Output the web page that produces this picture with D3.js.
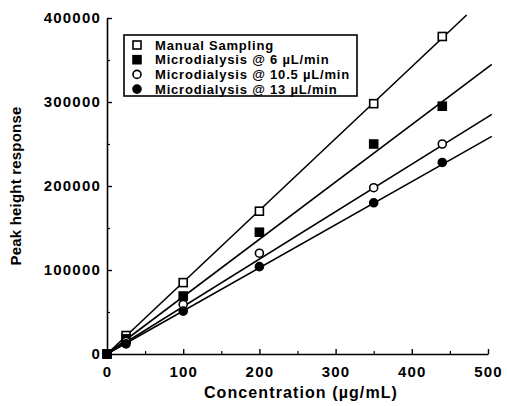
<!DOCTYPE html>
<html>
<head>
<meta charset="utf-8">
<script src="https://cdn.jsdelivr.net/npm/d3@7"></script>
<style>
  body { margin: 0; background: #fff; }
  svg text { font-family: "Liberation Sans", Arial, sans-serif; font-weight: bold; fill: #000; }
</style>
</head>
<body>
<div id="chart"></div>
<script>
// concentrations (ug/mL) for every series
var concentration = [0, 25, 100, 200, 350, 440];

// peak height response of each sampling method
var manualSampling = [0, 22000, 85000, 170000, 298000, 378000];
var micro6 = [0, 18000, 69000, 145000, 250000, 295000];
var micro105 = [0, 15000, 59000, 120000, 198000, 250000];
var micro13 = [0, 12000, 51000, 104000, 180000, 228000];

// fitted line slopes (response per ug/mL) and where each line stops
var fitSlope = [855, 683, 565, 513];
var fitEnd = [472, 505, 505, 505];

// legend text
var seriesNames = [
	"Manual Sampling",
	"Microdialysis @ 6 \u00b5L/min",
	"Microdialysis @ 10.5 \u00b5L/min",
	"Microdialysis @ 13 \u00b5L/min"
];

// tick values
var xTicks = [0, 100, 200, 300, 400, 500];
var yTicks = [0, 100000, 200000, 300000, 400000];

var width = 508, height = 406;

var svg = d3.select("#chart").append("svg")
	.attr("width", width)
	.attr("height", height);

// scales
var x = d3.scaleLinear().domain([0, 500]).range([107, 488]);
var y = d3.scaleLinear().domain([0, 400000]).range([354, 18]);

// marker styles: open square, filled square, open circle, filled circle
var markers = [
	{ shape: "square", fill: "#fff" },
	{ shape: "square", fill: "#000" },
	{ shape: "circle", fill: "#fff" },
	{ shape: "circle", fill: "#000" }
];

var allSeries = [manualSampling, micro6, micro105, micro13];

/**
 * draws a single marker at cx, cy
 */
function drawMarker(g, m, cx, cy)
{
	if (m.shape === "square")
	{
		g.append("rect")
			.attr("x", cx - 4)
			.attr("y", cy - 4)
			.attr("width", 8)
			.attr("height", 8)
			.attr("fill", m.fill)
			.attr("stroke", "#000")
			.attr("stroke-width", 1.6);
	}
	else
	{
		g.append("circle")
			.attr("cx", cx)
			.attr("cy", cy)
			.attr("r", 4)
			.attr("fill", m.fill)
			.attr("stroke", "#000")
			.attr("stroke-width", 1.6);
	}
}

// minor ticks first so the main axes sit on top
svg.append("g")
	.attr("transform", "translate(" + x(0) + ",0)")
	.call(d3.axisLeft(y).tickValues(d3.range(50000, 400000, 100000)).tickSize(-3).tickFormat(""))
	.call(function (g) { g.select(".domain").remove(); })
	.selectAll("line").attr("stroke-width", 1.2);

svg.append("g")
	.attr("transform", "translate(0," + y(0) + ")")
	.call(d3.axisBottom(x).tickValues(d3.range(50, 500, 100)).tickSize(-3).tickFormat(""))
	.call(function (g) { g.select(".domain").remove(); })
	.selectAll("line").attr("stroke-width", 1.2);

// y axis
var yAxis = svg.append("g")
	.attr("transform", "translate(" + x(0) + ",0)")
	.call(d3.axisLeft(y).tickValues(yTicks).tickSize(-5).tickSizeOuter(0).tickPadding(6).tickFormat(d3.format("d")));

// x axis
var xAxis = svg.append("g")
	.attr("transform", "translate(0," + y(0) + ")")
	.call(d3.axisBottom(x).tickValues(xTicks).tickSize(-5).tickSizeOuter(0).tickPadding(12).tickFormat(d3.format("d")));

[xAxis, yAxis].forEach(function (a) {
	a.select(".domain").attr("stroke-width", 1.6);
	a.selectAll(".tick line").attr("stroke-width", 1.4);
	a.selectAll(".tick text")
		.style("font-size", "15px")
		.style("letter-spacing", "1.2px")
		.style("font-family", "\"Liberation Sans\", Arial, sans-serif")
		.style("font-weight", "bold")
		.attr("fill", "#000");
});

// fitted lines
fitSlope.forEach(function (s, i) {
	svg.append("line")
		.attr("x1", x(0))
		.attr("y1", y(0))
		.attr("x2", x(fitEnd[i]))
		.attr("y2", y(s * fitEnd[i]))
		.attr("stroke", "#000")
		.attr("stroke-width", 1.6);
});

// data points
allSeries.forEach(function (vals, i) {
	var g = svg.append("g");
	vals.forEach(function (v, j) {
		drawMarker(g, markers[i], x(concentration[j]), y(v));
	});
});

// legend box
var legend = svg.append("g");
legend.append("rect")
	.attr("x", 124)
	.attr("y", 35)
	.attr("width", 233)
	.attr("height", 61)
	.attr("fill", "#fff")
	.attr("stroke", "#000")
	.attr("stroke-width", 1.6);

seriesNames.forEach(function (name, i) {
	var ly = 45 + i * 14.7;
	drawMarker(legend, markers[i], 137, ly);
	legend.append("text")
		.attr("x", 155)
		.attr("y", ly)
		.attr("dy", "0.35em")
		.style("font-size", "13px")
		.style("letter-spacing", "0.8px")
		.text(name);
});

// axis titles
svg.append("text")
	.attr("x", 301)
	.attr("y", 398)
	.attr("text-anchor", "middle")
	.style("font-size", "16px")
	.style("letter-spacing", "1.1px")
	.text("Concentration  (\u00b5g/mL)");

svg.append("text")
	.attr("transform", "translate(21,186) rotate(-90)")
	.attr("text-anchor", "middle")
	.style("font-size", "15px")
	.style("letter-spacing", "0.2px")
	.text("Peak height response");
</script>
</body>
</html>
